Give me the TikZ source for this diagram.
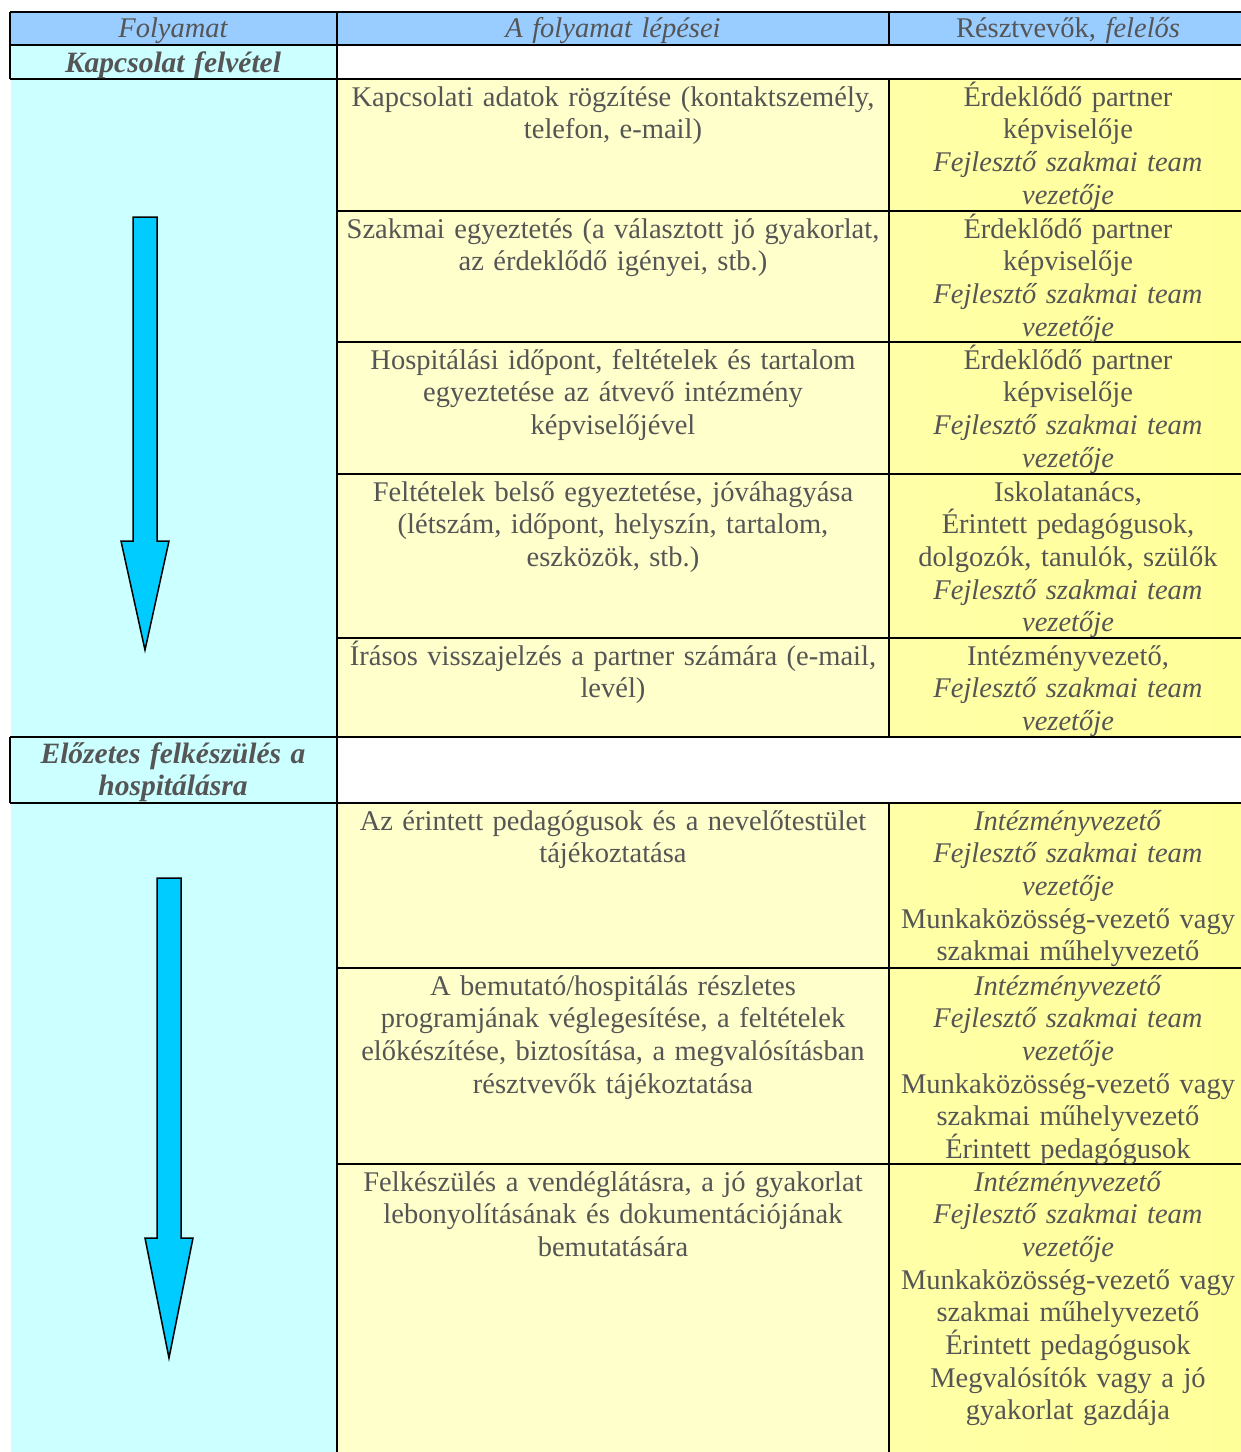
\documentclass[tikz,border=0pt]{standalone}
\usepackage{fontspec}
\setmainfont{Liberation Serif}
\definecolor{hdr}{HTML}{99CCFF}
\definecolor{cyanbg}{HTML}{CCFFFF}
\definecolor{paley}{HTML}{FFFFCC}
\definecolor{stry}{HTML}{FFFF99}
\definecolor{stryl}{HTML}{FFFFA8}
\definecolor{arr}{HTML}{00CCFF}
\definecolor{tg}{HTML}{555555}
\begin{document}
\begin{tikzpicture}[x=1pt,y=-1pt,
  rule/.style={line width=2.6pt,black},
  txt/.style={text=tg,font=\fontsize{28.5}{32.7}\selectfont,inner sep=0pt,align=center,anchor=base},
  c1/.style={txt,text width=320pt},
  c2/.style={txt,text width=545pt},
  c3/.style={txt,text width=345pt},
  downarrow/.style={fill=arr,draw=black,line width=1.5pt,line join=miter}]
\useasboundingbox (0,0) rectangle (1241,1452);
\begin{scope}
\clip (0,0) rectangle (1241,1452);
% fills
\fill[hdr] (10,12) rectangle (1250,45);
\fill[white] (10,45) rectangle (1250,79);
\fill[cyanbg] (10,45) rectangle (337,79);
\fill[cyanbg] (11,79) rectangle (337,737);
\fill[paley] (337,79) rectangle (889,737);
\shade[left color=stryl,right color=stry] (889,79) rectangle (1250,737);
\fill[white] (10,737) rectangle (1250,803);
\fill[cyanbg] (10,737) rectangle (337,803);
\fill[cyanbg] (11,803) rectangle (337,1460);
\fill[paley] (337,803) rectangle (889,1460);
\shade[left color=stryl,right color=stry] (889,803) rectangle (1250,1460);
% rules
\draw[rule] (10,12) -- (1250,12);
\draw[rule] (10,45) -- (1250,45);
\draw[rule] (10,79) -- (1250,79);
\draw[rule] (10,737) -- (1250,737);
\draw[rule] (10,803) -- (1250,803);
\foreach \yy in {211,342,474,638,968,1164} \draw[rule] (337,\yy) -- (1250,\yy);
\draw[rule] (10,12) -- (10,79);
\draw[rule] (10,737) -- (10,803);
\draw[rule] (337,12) -- (337,1460);
\draw[rule] (889,12) -- (889,45);
\draw[rule] (889,79) -- (889,737);
\draw[rule] (889,803) -- (889,1460);
\end{scope}
% arrows
\draw[downarrow] (133,217) -- (157,217) -- (157,541) -- (169,541) -- (145,650) -- (121,541) -- (133,541) -- cycle;
\draw[downarrow] (157,878) -- (181,878) -- (181,1238) -- (193,1238) -- (169,1358) -- (145,1238) -- (157,1238) -- cycle;
% header
\node[c1] (h1) at (173,37) {\itshape Folyamat};
\node[c2] (h2) at (613,37) {\itshape A folyamat lépései};
\node[c3] (h3) at (1068,37) {Résztvevők, \textit{felelős}};
\node[c1] (s1) at (173,72) {\fontsize{29.5}{32.7}\selectfont\bfseries\itshape Kapcsolat felvétel};
\node[c1] (s2) at (173,763) {\fontsize{29.5}{32.7}\selectfont\bfseries\itshape Előzetes felkészülés a\\ hospitálásra};
% section 1
\node[c2] (r1a) at (613,106) {Kapcsolati adatok rögzítése (kontaktszemély,\\ telefon, e-mail)};
\node[c3] (r1b) at (1068,106) {Érdeklődő partner\\ képviselője\\ \textit{Fejlesztő szakmai team}\\ \textit{vezetője}};
\node[c2] (r2a) at (613,238) {Szakmai egyeztetés (a választott jó gyakorlat,\\ az érdeklődő igényei, stb.)};
\node[c3] (r2b) at (1068,238) {Érdeklődő partner\\ képviselője\\ \textit{Fejlesztő szakmai team}\\ \textit{vezetője}};
\node[c2] (r3a) at (613,369) {Hospitálási időpont, feltételek és tartalom\\ egyeztetése az átvevő intézmény\\ képviselőjével};
\node[c3] (r3b) at (1068,369) {Érdeklődő partner\\ képviselője\\ \textit{Fejlesztő szakmai team}\\ \textit{vezetője}};
\node[c2] (r4a) at (613,501) {Feltételek belső egyeztetése, jóváhagyása\\ (létszám, időpont, helyszín, tartalom,\\ eszközök, stb.)};
\node[c3] (r4b) at (1068,501) {Iskolatanács,\\ Érintett pedagógusok,\\ dolgozók, tanulók, szülők\\ \textit{Fejlesztő szakmai team}\\ \textit{vezetője}};
\node[c2] (r5a) at (613,665) {Írásos visszajelzés a partner számára (e-mail,\\ levél)};
\node[c3] (r5b) at (1068,665) {Intézményvezető,\\ \textit{Fejlesztő szakmai team}\\ \textit{vezetője}};
% section 2
\node[c2] (r6a) at (613,830) {Az érintett pedagógusok és a nevelőtestület\\ tájékoztatása};
\node[c3] (r6b) at (1068,830) {\textit{Intézményvezető}\\ \textit{Fejlesztő szakmai team}\\ \textit{vezetője}\\ Munkaközösség-vezető vagy\\ szakmai műhelyvezető};
\node[c2] (r7a) at (613,995) {A bemutató/hospitálás részletes\\ programjának véglegesítése, a feltételek\\ előkészítése, biztosítása, a megvalósításban\\ résztvevők tájékoztatása};
\node[c3] (r7b) at (1068,995) {\textit{Intézményvezető}\\ \textit{Fejlesztő szakmai team}\\ \textit{vezetője}\\ Munkaközösség-vezető vagy\\ szakmai műhelyvezető\\ Érintett pedagógusok};
\node[c2] (r8a) at (613,1191) {Felkészülés a vendéglátásra, a jó gyakorlat\\ lebonyolításának és dokumentációjának\\ bemutatására};
\node[c3] (r8b) at (1068,1191) {\textit{Intézményvezető}\\ \textit{Fejlesztő szakmai team}\\ \textit{vezetője}\\ Munkaközösség-vezető vagy\\ szakmai műhelyvezető\\ Érintett pedagógusok\\ Megvalósítók vagy a jó\\ gyakorlat gazdája};
\end{tikzpicture}
\end{document}
